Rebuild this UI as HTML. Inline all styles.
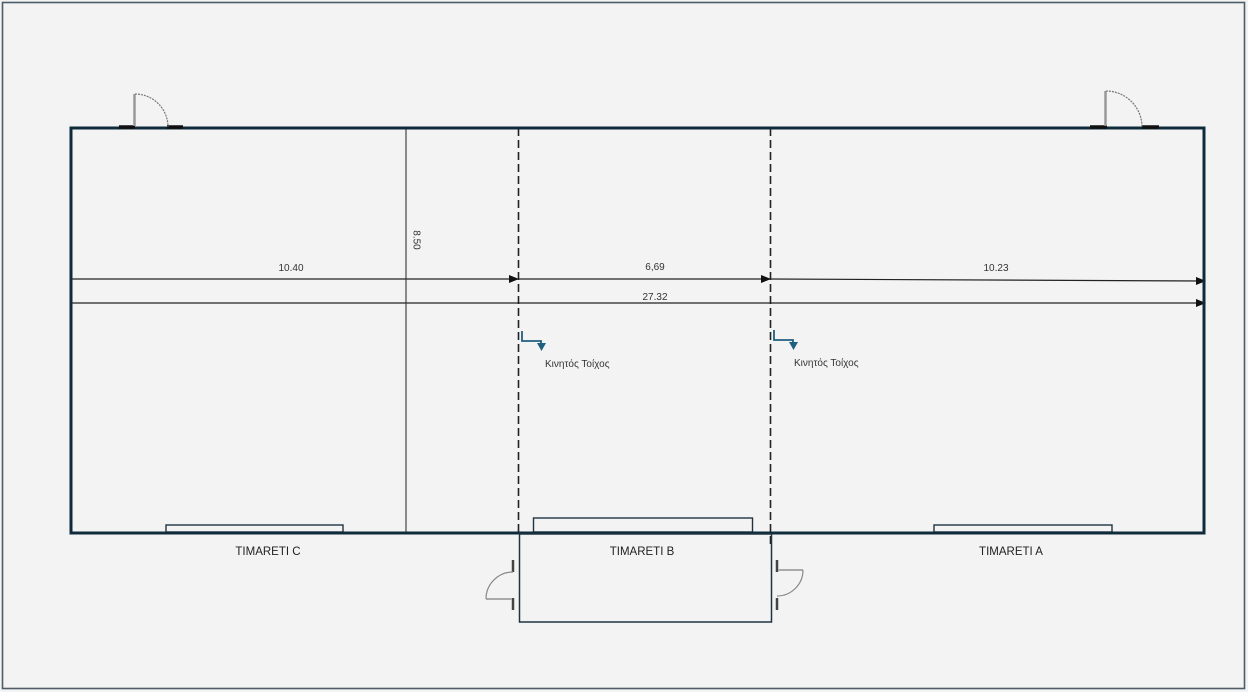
<!DOCTYPE html>
<html><head><meta charset="utf-8"><style>
html,body{margin:0;padding:0;background:#f3f3f3;}
svg{display:block;}
text{font-family:"Liberation Sans","DejaVu Sans",sans-serif;}
</style></head><body>
<svg width="1248" height="692" viewBox="0 0 1248 692" xmlns="http://www.w3.org/2000/svg">
<defs>
<marker id="ah" markerWidth="10" markerHeight="8" refX="9" refY="4" orient="auto" markerUnits="userSpaceOnUse">
<path d="M0,0 L10,4 L0,8 Z" fill="#111"/>
</marker>
</defs>
<rect x="0" y="0" width="1248" height="692" fill="#f3f3f3"/>
<rect x="2.5" y="2.5" width="1242" height="686" fill="none" stroke="#4d5c68" stroke-width="1.6"/>

<!-- dimension lines -->
<line x1="71" y1="279" x2="518" y2="279" stroke="#222" stroke-width="1.2" marker-end="url(#ah)"/>
<line x1="518" y1="279" x2="770" y2="279" stroke="#222" stroke-width="1.2" marker-end="url(#ah)"/>
<line x1="770" y1="279" x2="1205" y2="281" stroke="#222" stroke-width="1.2" marker-end="url(#ah)"/>
<line x1="71" y1="303" x2="1205" y2="303" stroke="#222" stroke-width="1.2" marker-end="url(#ah)"/>

<!-- interior vertical -->
<line x1="406" y1="128" x2="406" y2="533" stroke="#333" stroke-width="1.1"/>
<!-- dashed movable walls -->
<line x1="518.5" y1="128" x2="518.5" y2="534" stroke="#222" stroke-width="1.6" stroke-dasharray="8,4"/>
<line x1="770.5" y1="128" x2="770.5" y2="544" stroke="#222" stroke-width="1.6" stroke-dasharray="8,4"/>

<!-- windows -->
<rect x="166" y="525" width="177" height="7" fill="#f3f3f3" stroke="#1e3442" stroke-width="1.4"/>
<rect x="934" y="525" width="178" height="7" fill="#f3f3f3" stroke="#1e3442" stroke-width="1.4"/>
<rect x="533.5" y="518" width="219" height="14" fill="#f3f3f3" stroke="#1e3442" stroke-width="1.4"/>

<!-- main room -->
<rect x="71" y="128" width="1133" height="405" fill="none" stroke="#0f2b3b" stroke-width="3"/>

<!-- Timareti B box -->
<rect x="519.5" y="534" width="252" height="88" fill="none" stroke="#1e3442" stroke-width="1.5"/>

<!-- top-left door -->
<line x1="119" y1="127" x2="135" y2="127" stroke="#111" stroke-width="3.5"/>
<line x1="167" y1="127" x2="183" y2="127" stroke="#111" stroke-width="3.5"/>
<line x1="134.5" y1="94" x2="134.5" y2="126" stroke="#999" stroke-width="2.5"/>
<path d="M135,94 A33,33 0 0 1 168,127" fill="none" stroke="#777" stroke-width="1.2" stroke-dasharray="2,1"/>

<!-- top-right door -->
<line x1="1090" y1="127" x2="1107" y2="127" stroke="#111" stroke-width="3.5"/>
<line x1="1142" y1="127" x2="1159" y2="127" stroke="#111" stroke-width="3.5"/>
<line x1="1105.5" y1="91" x2="1105.5" y2="126" stroke="#999" stroke-width="2.5"/>
<path d="M1106,91 A36,36 0 0 1 1142,127" fill="none" stroke="#777" stroke-width="1.2" stroke-dasharray="2,1"/>

<!-- left door of B -->
<line x1="513" y1="560" x2="513" y2="572" stroke="#444" stroke-width="2.5"/>
<line x1="513" y1="598" x2="513" y2="610" stroke="#444" stroke-width="2.5"/>
<line x1="486" y1="599" x2="512" y2="599" stroke="#aaa" stroke-width="2"/>
<path d="M486,599 A27,27 0 0 1 513,572" fill="none" stroke="#888" stroke-width="1.2"/>

<!-- right door of B -->
<line x1="777" y1="560" x2="777" y2="572" stroke="#444" stroke-width="2.5"/>
<line x1="777" y1="598" x2="777" y2="610" stroke="#444" stroke-width="2.5"/>
<line x1="778" y1="570" x2="803" y2="570" stroke="#aaa" stroke-width="2"/>
<path d="M803,570 A26,26 0 0 1 777,596" fill="none" stroke="#888" stroke-width="1.2"/>

<!-- movable wall icons -->
<path d="M522,331 L522,341 L541,341 L541,345" fill="none" stroke="#1f5f80" stroke-width="1.8"/>
<path d="M537,343 L546,343 L541.5,351 Z" fill="#1f5f80"/>
<path d="M774,330 L774,340 L793,340 L793,344" fill="none" stroke="#1f5f80" stroke-width="1.8"/>
<path d="M789,342 L798,342 L793.5,350 Z" fill="#1f5f80"/>

<text x="545" y="367" font-size="10" fill="#333">Κινητός Τοίχος</text>
<text x="794" y="366" font-size="10" fill="#333">Κινητός Τοίχος</text>

<!-- dimension labels -->
<text x="291" y="271" font-size="10" fill="#333" text-anchor="middle">10.40</text>
<text x="655" y="270" font-size="10" fill="#333" text-anchor="middle">6,69</text>
<text x="996" y="271" font-size="10" fill="#333" text-anchor="middle">10.23</text>
<text x="655" y="300" font-size="10" fill="#333" text-anchor="middle">27.32</text>
<text x="0" y="0" font-size="10" fill="#333" text-anchor="middle" transform="translate(413.5,240) rotate(90)">8.50</text>

<!-- room labels -->
<text x="268" y="555" font-size="11.5" fill="#222" text-anchor="middle">TIMARETI C</text>
<text x="642" y="555" font-size="11.5" fill="#222" text-anchor="middle">TIMARETI B</text>
<text x="1011" y="555" font-size="11.5" fill="#222" text-anchor="middle">TIMARETI A</text>
</svg>
</body></html>
